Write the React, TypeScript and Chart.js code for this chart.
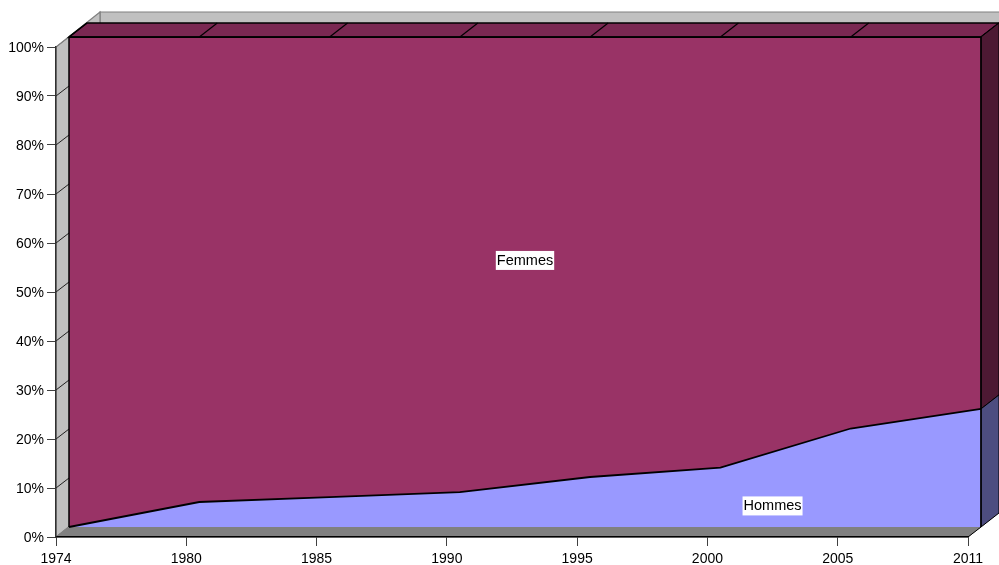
import React, { useEffect, useRef } from "react";
import { Chart, registerables } from "chart.js";

Chart.register(...registerables);

const years = ["1974", "1980", "1985", "1990", "1995", "2000", "2005", "2011"];
const hommes = [0, 5.1, 6.1, 7.1, 10.2, 12.1, 20.1, 24.1];
const femmes = [100, 94.9, 93.9, 92.9, 89.8, 87.9, 79.9, 75.9];
const seriesNames = ["Hommes", "Femmes"];

const SX = 13, SY = -10;
const DX = 18, DY = -14;
const WX = 44, WY = -35;
const FAMILY = "'Liberation Sans', Arial, sans-serif";

function poly(ctx: CanvasRenderingContext2D, pts: number[][], fill?: string, stroke?: string, lw = 1) {
  ctx.beginPath();
  pts.forEach((p, i) => (i ? ctx.lineTo(p[0], p[1]) : ctx.moveTo(p[0], p[1])));
  ctx.closePath();
  if (fill) { ctx.fillStyle = fill; ctx.fill(); }
  if (stroke) { ctx.strokeStyle = stroke; ctx.lineWidth = lw; ctx.stroke(); }
}
function seg(ctx: CanvasRenderingContext2D, a: number[], b: number[], c: string, lw = 1) {
  ctx.beginPath(); ctx.moveTo(a[0], a[1]); ctx.lineTo(b[0], b[1]);
  ctx.strokeStyle = c; ctx.lineWidth = lw; ctx.stroke();
}

const walls = {
  id: "walls",
  beforeDraw(chart: any) {
    const { ctx, chartArea: a } = chart;
    const { left: l, right: r, top: t, bottom: b } = a;
    ctx.save();
    poly(ctx, [[l + WX, t + WY], [r + WX + 40, t + WY], [r + WX + 40, b + WY], [l + WX, b + WY]], "#C0C0C0", "#808080", 1.2);
    poly(ctx, [[l, t], [l + WX, t + WY], [l + WX, b + WY], [l, b]], "#C0C0C0", "#808080", 1.2);
    poly(ctx, [[l, b], [r, b], [r + WX, b + WY], [l + WX, b + WY]], "#808080", "#808080");
    const y = chart.scales.y;
    for (let v = 0; v <= 100; v += 10) {
      const p = y.getPixelForValue(v);
      seg(ctx, [l, p], [l + SX, p + SY], v === 100 || v === 0 ? "#808080" : "#202020");
    }
    ctx.restore();
  },
};

const shift = {
  id: "shift",
  beforeDatasetsDraw(chart: any) {
    chart.ctx.save();
    chart.ctx.translate(SX, SY);
  },
  afterDatasetsDraw(chart: any) {
    const { ctx, chartArea: a, scales } = chart;
    ctx.restore();
    const x = scales.x, y = scales.y;
    const l = a.left + SX, r = a.right + SX, t = a.top + SY, b = a.bottom + SY;
    const last = hommes.length - 1;
    const hy = y.getPixelForValue(hommes[last]) + SY;
    ctx.save();
    // top face
    poly(ctx, [[l, t], [r, t], [r + DX, t + DY], [l + DX, t + DY]], "#7A2852", "#000000", 1.5);
    years.forEach((_, i) => {
      const px = x.getPixelForValue(i) + SX;
      seg(ctx, [px, t], [px + DX, t + DY], "#000000", 1.2);
    });
    // side faces
    poly(ctx, [[r, t], [r + DX, t + DY], [r + DX, hy + DY], [r, hy]], "#4D1933", "#000000", 1);
    poly(ctx, [[r, hy], [r + DX, hy + DY], [r + DX, b + DY], [r, b]], "#4D4D80", "#000000", 1);
    // front edges
    seg(ctx, [l, t], [l, b], "#000000", 1.5);
    seg(ctx, [r, t], [r, b], "#000000", 1.5);
    seg(ctx, [a.right, a.bottom], [r, b], "#000000", 1);
    seg(ctx, [l, t], [r, t], "#000000", 1.5);
    // data labels
    ctx.font = `14.5px ${FAMILY}`;
    ctx.textAlign = "center";
    ctx.textBaseline = "middle";
    const labels = [
      { text: seriesNames[1], px: x.getPixelForValue(3.5) + SX, py: y.getPixelForValue(54.4) + SY },
      { text: seriesNames[0], px: x.getPixelForValue(5.4) + SX, py: y.getPixelForValue(4.3) + SY },
    ];
    labels.forEach((o) => {
      const w = ctx.measureText(o.text).width + 2;
      ctx.fillStyle = "#FFFFFF";
      ctx.fillRect(o.px - w / 2, o.py - 9.5, w, 19);
      ctx.fillStyle = "#000000";
      ctx.fillText(o.text, o.px, o.py + 0.5);
    });
    ctx.restore();
  },
};

export default function App() {
  const ref = useRef<HTMLCanvasElement>(null);
  useEffect(() => {
    const chart = new Chart(ref.current!, {
      type: "line",
      data: {
        labels: years,
        datasets: [
          { label: seriesNames[0], data: hommes, backgroundColor: "#9999FF", borderColor: "#000000", borderWidth: 1.8, fill: "origin", pointRadius: 0, tension: 0, clip: false },
          { label: seriesNames[1], data: femmes, backgroundColor: "#993366", borderColor: "#000000", borderWidth: 1.8, fill: "-1", pointRadius: 0, tension: 0, clip: false },
        ],
      } as any,
      options: {
        animation: false,
        responsive: false,
        layout: { padding: { left: 0, right: 31, top: 47, bottom: 0 } },
        plugins: { legend: { display: false }, tooltip: { enabled: false }, title: { display: false } },
        scales: {
          x: {
            type: "category",
            stacked: true,
            offset: false,
            grid: { drawOnChartArea: false, drawTicks: true, tickLength: 9, tickColor: "#404040" },
            border: { color: "#000000", width: 1.5 },
            ticks: { color: "#000000", font: { family: FAMILY, size: 14 }, padding: 5, maxRotation: 0, autoSkip: false },
            afterFit: (s: any) => { s.height = 28; },
          },
          y: {
            stacked: true,
            min: 0,
            max: 100,
            grid: { drawOnChartArea: false, drawTicks: true, tickLength: 9, tickColor: "#404040" },
            border: { color: "#303030", width: 1.5 },
            ticks: { stepSize: 10, color: "#000000", font: { family: FAMILY, size: 14 }, padding: 3, labelOffset: 1, callback: (v: any) => v + "%" },
            afterFit: (s: any) => { s.width = 56; },
          },
        },
      },
      plugins: [walls, shift],
    } as any);
    return () => chart.destroy();
  }, []);
  return (
    <div style={{ position: "fixed", left: 0, top: 0, width: 999, height: 565, background: "#fff" }}>
      <canvas ref={ref} width={999} height={565} style={{ display: "block" }} />
    </div>
  );
}
